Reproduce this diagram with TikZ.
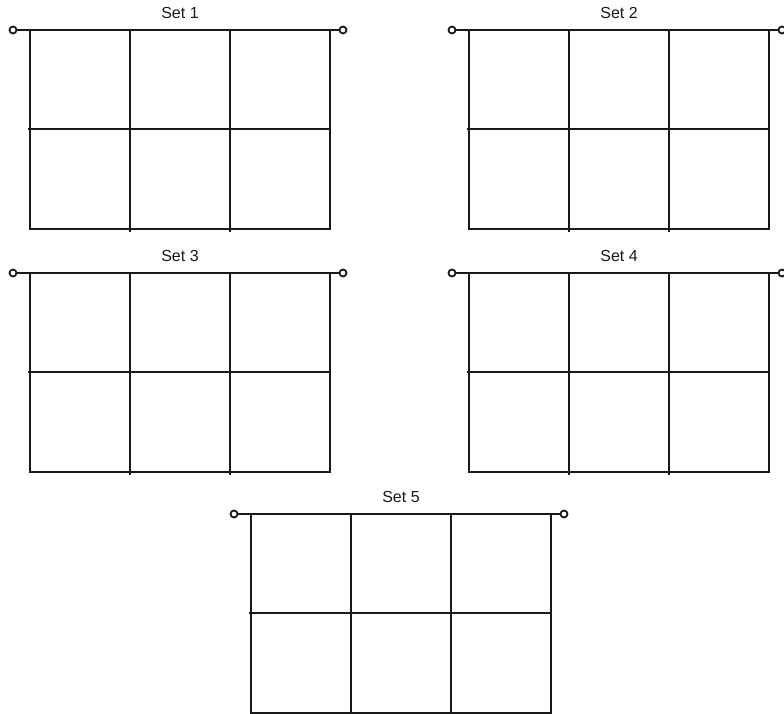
\documentclass[tikz,border=0pt]{standalone}
\usepackage{fontspec}
\setmainfont{Liberation Sans}
\tikzset{
  gridline/.style={line width=1.4pt, black!90},
  terminal/.style={circle, draw=black!90, line width=1.8pt, fill=white, minimum size=7pt, inner sep=0pt},
  settitle/.style={font=\fontsize{16}{18}\selectfont, inner sep=0pt, text=black!90}
}
\newcommand\drawset[4]{%
  \begin{scope}[shift={(#1,#2)}]
    \draw[gridline] (0,0) rectangle (300,199);
    \draw[gridline] (100,0) -- (100,202);
    \draw[gridline] (200,0) -- (200,202);
    \draw[gridline] (-2,99) -- (300,99);
    \coordinate (#4L) at (-17,0);
    \coordinate (#4R) at (313,0);
    \draw[gridline] (#4L) -- (#4R);
    \node[terminal] at (#4L) {};
    \node[terminal] at (#4R) {};
    \node[settitle] (#4T) at (150,-17) {#3};
  \end{scope}}
\begin{document}
\begin{tikzpicture}[x=1pt,y=-1pt]
  \useasboundingbox (0,0) rectangle (784,714);
  \fill[white] (0,0) rectangle (784,714);
  \drawset{30}{30}{Set 1}{sa}
  \drawset{469}{30}{Set 2}{sb}
  \drawset{30}{273}{Set 3}{sc}
  \drawset{469}{273}{Set 4}{sd}
  \drawset{251}{514}{Set 5}{se}
\end{tikzpicture}
\end{document}
